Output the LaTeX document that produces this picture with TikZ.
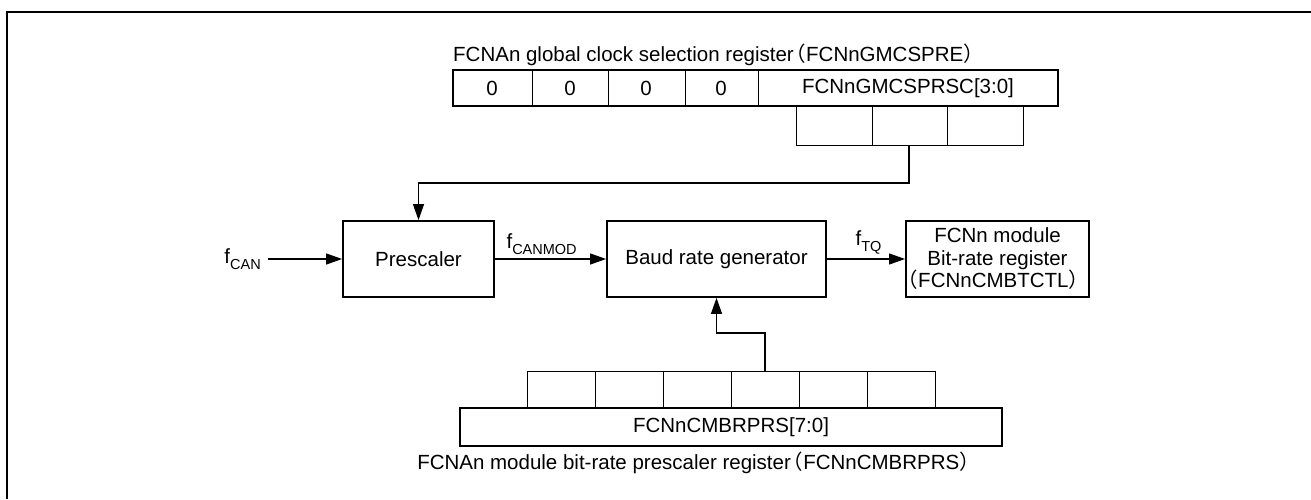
\documentclass[tikz,border=0pt]{standalone}
\usepackage{fontspec}
\setmainfont{Liberation Sans}
\newfontfamily\cjk{Noto Sans CJK JP}
\usetikzlibrary{arrows.meta}
\newcommand{\lowtxt}[1]{\raisebox{-0.28em}{\fontsize{14.5}{16}\selectfont #1}}
\newcommand{\lp}{\hspace{-0.4em}{\cjk （}}
\newcommand{\rp}{{\cjk ）}\hspace{-0.4em}}
\tikzset{
  txt/.style={font=\fontsize{20.5}{22.5}\selectfont, inner sep=0pt},
  blockbox/.style={draw, line width=1.8pt, txt, align=center},
  arr/.style={line width=1.1pt, -{Triangle[length=16pt,width=11pt]}},
  freqlabel/.style={txt, anchor=south west, yshift=4pt},
  regline/.style={line width=1.8pt},
  cellline/.style={line width=1pt},
}
\begin{document}
\begin{tikzpicture}[x=1pt, y=-1pt]
    \useasboundingbox (0,0) rectangle (1311,499);
    % Frame (top and left edge)
    \draw[line width=2.2pt] (7,499) -- (7,12) -- (1311,12);

    % Global clock selection register (top)
    \node[txt, anchor=west] (gtitle) at (453,55) {FCNAn global clock selection register\lp FCNnGMCSPRE\rp};
    \draw[regline] (453,70) rectangle (1058,106);
    \foreach \x in {532,608,685,758}
        \draw[cellline] (\x,70) -- (\x,106);
    \foreach \x/\n in {492/ga,570/gb,646/gc,721/gd}
        \node[txt] (\n) at (\x,88) {0};
    \node[txt] (gfield) at (908,88) {FCNnGMCSPRSC[3:0]};
    \draw[cellline] (796,106) rectangle (1023,145);
    \foreach \x in {872,947}
        \draw[cellline] (\x,106) -- (\x,145);
    \coordinate (gsel) at (909,145);
    \coordinate (gbend) at (909,183);

    % Blocks
    \node[blockbox, minimum width=151pt, minimum height=76pt] (pre) at (418.5,259) {Prescaler};
    \node[blockbox, minimum width=219pt, minimum height=76pt] (baud) at (716.5,259) {Baud rate generator};
    \node[blockbox, minimum width=165pt, minimum height=76pt] (btr) at (997.5,259) {FCNn module\\Bit-rate register\\\lp FCNnCMBTCTL\rp};

    % Clock path
    \node[txt, anchor=east] (fcan) at (261,259) {f\lowtxt{CAN}};
    \draw[arr] (fcan.east) ++(7,0) -- (pre.west);
    \draw[arr] (pre) -- (baud) node[freqlabel, pos=0.1] (fmod) {f\lowtxt{CANMOD}};
    \draw[arr] (baud) -- (btr) node[freqlabel, pos=0.36] (ftq) {f\lowtxt{TQ}};
    \draw[arr] (gsel) -- (gbend) -| (pre.north);

    % Bit-rate prescaler register (bottom)
    \draw[cellline] (527,371) rectangle (935,408);
    \foreach \x in {595,663,731,799,867}
        \draw[cellline] (\x,371) -- (\x,408);
    \draw[regline] (460,408) rectangle (1002,446);
    \node[txt] (bfield) at (731,427) {FCNnCMBRPRS[7:0]};
    \node[txt, anchor=east] (btitle) at (980,463) {FCNAn module bit-rate prescaler register\lp FCNnCMBRPRS\rp};
    \coordinate (bsel) at (765,371);
    \draw[arr] (bsel) -- ++(0,-38) -| (baud.south);
\end{tikzpicture}
\end{document}
